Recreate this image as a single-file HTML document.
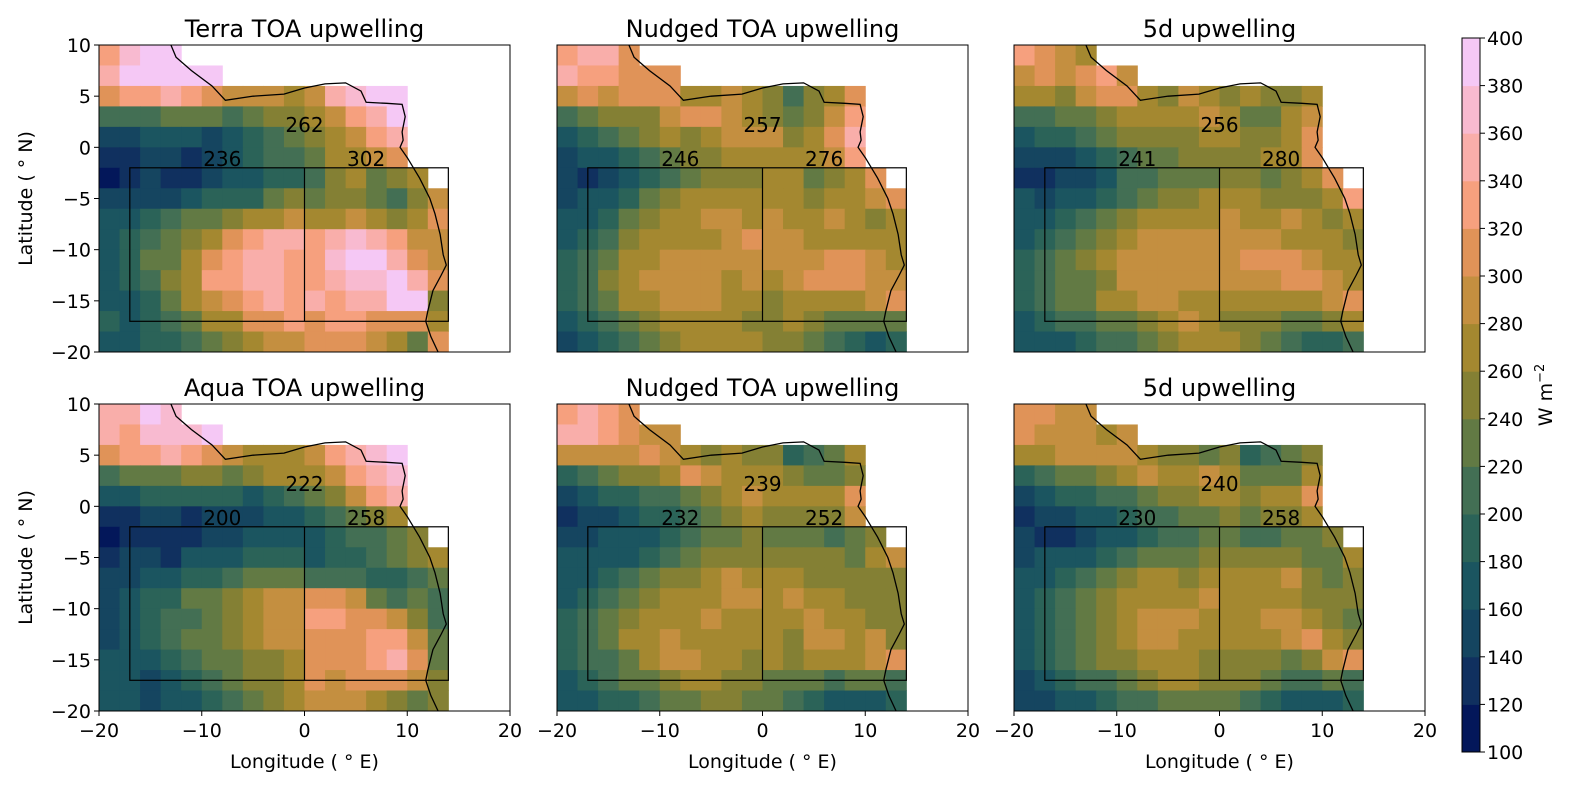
<!DOCTYPE html>
<html><head><meta charset="utf-8">
<style>
body{margin:0;background:#fff;}
svg text{font-family:"DejaVu Sans","Liberation Sans",sans-serif;fill:#000;}
</style></head>
<body>
<svg id="fig" width="1578" height="794" xmlns="http://www.w3.org/2000/svg"></svg>
<script>
// colour levels (100..400 step 20)
const levelTicks=[100,120,140,160,180,200,220,240,260,280,300,320,340,360,380,400];
const levelColors=["#03175a","#10305f","#154560","#1b5560","#2b6358","#436f54","#627a44","#848034","#a48830","#c48f40","#e09358","#f6a07e","#f9aeaa","#f8bad0","#f5c8f5"];
const panelTitles=["Terra TOA upwelling","Nudged TOA upwelling","5d upwelling","Aqua TOA upwelling","Nudged TOA upwelling","5d upwelling"];
const regionMeans=[[262,236,302],[257,246,276],[256,241,280],[222,200,258],[239,232,252],[240,230,258]];
const xTicks=[-20,-10,0,10,20];
const yTicks=[10,5,0,-5,-10,-15,-20];
// 2-degree grids, rows lat 10..-20, cols lon -20..20; char = level index (hex); cells beyond string end = land
const gridTerra=["bdee","ceeeee","abbcba99989cdee","555666567789bce","2233323456789bc","11221234556889a","0121123344578678","22223444676776579","3345667889889878a","345678abccbcdcb99","34668abccbbdeeca9","34578bbccbbcddeca","334689abcbcbccee7","4345688aababbaaa8","3344567899aaa986a"];
const gridNudgedA=["bcca","cbbaaa","9a9aaa88987578a","567779aa987679b","3456787899978ac","23345677888889b","212345677788678a","2334678888887889a","33467889989889878","345788889a9988888","4568899999999aa98","457899998989aaa99","4568899988788889a","34567888877876666","23456788887765434"];
const gridFiveA=["ba98","9a9ab9","8879aa879878778","556678888986689","34456777788778a","22234566777788a","112235566677678a","3233456778887778b","33456788889889878","34567899999998887","45678999999aaa988","4566799999999aa98","4566889988888889a","34556678987776678","33345567888765445"];
const gridAqua=["cced","cbddde","abbcba98889bcde","566677678889bcd","3344444345679bc","112212223345678","0111122333345567","12213334443445678","22334456665554456","2344667899aa96565","2345567899bbaa975","2345667899aaabb96","3334566778aaabca6","3323456778a9aaa97","33233456789998767"];
const gridNudgedB=["bcba","ccba99","9999a9878774568","456778a98887667","23445567898888a","122344567877779","2233345667666567","33334567777777689","33456778988877777","34567888998988777","45678889888898877","45688988888799897","4556899887878889a","34566788776665665","33445667766543334"];
const gridFiveB=["aa99","a99989","889999877674567","456678988986668","23445567788788a","122334556676778","2112334556655667","23334566677777668","33456788788889767","34567888898888777","34567899988899876","34567899888889a87","3456778887777679a","23455678877765565","22334556666543334"];
const grids=[gridTerra,gridNudgedA,gridFiveA,gridAqua,gridNudgedB,gridFiveB];
// coastline (lon, lat)
const coastLon=[-13,-12.5,-11,-9,-7.7,-5,-2,0,2,4,5.5,6,8,9.5,9.8,9.5,9.6,9.3,10,11.2,12.2,12.7,13.2,13.5,13.8,13.3,12.5,12,11.8,12.3,13];
const coastLat=[10,8.8,7.5,6,4.6,5,5.2,5.8,6.2,6.3,5.5,4.4,4.3,4.2,3,1.5,0.7,0,-1,-3,-5,-6.5,-8.5,-10.5,-11.5,-12.5,-14,-16,-17,-18.5,-20];

const NS="http://www.w3.org/2000/svg";
const svg=document.getElementById('fig');
function el(tag,attrs,parent){const e=document.createElementNS(NS,tag);for(const k in attrs)e.setAttribute(k,attrs[k]);(parent||svg).appendChild(e);return e;}
const PX=[99,557,1014],PY=[45,404],PW=411,PH=307;

for(let p=0;p<6;p++){
  const col=p%3,row=Math.floor(p/3);
  const x0=PX[col],y0=PY[row];
  const sx=lon=>x0+(lon+20)/40*PW;
  const sy=lat=>y0+(10-lat)/30*PH;
  const g=el('g',{});
  
  
  const grid=grids[p];
  for(let r=0;r<grid.length;r++){
    const s=grid[r];
    for(let c=0;c<s.length&&c<20;c++){
      const v=parseInt(s[c],16);
      if(isNaN(v))continue;
      const lon=-20+c*2,lat=10-r*2;
      const cell=el('rect',{x:sx(lon),y:sy(lat),width:sx(lon+2)-sx(lon)+0.5,height:sy(lat-2)-sy(lat)+0.5,fill:levelColors[Math.min(v,14)]},g);
      
      
    }
  }
  const pts=coastLon.map((lo,i)=>sx(lo)+','+sy(coastLat[i])).join(' ');
  const coast=el('polyline',{points:pts,fill:'none',stroke:'#000','stroke-width':1.3},g);
  
  
  const box=el('rect',{x:sx(-17),y:sy(-2),width:sx(14)-sx(-17),height:sy(-17)-sy(-2),fill:'none',stroke:'#000','stroke-width':1.2},g);
  
  
  const dv=el('line',{x1:sx(0),x2:sx(0),y1:sy(-2),y2:sy(-17),stroke:'#000','stroke-width':1.2},g);
  
  
  const lp=[[0,1.5],[-8,-1.8],[6,-1.8]];
  for(let i=0;i<3;i++){
    const t=el('text',{x:sx(lp[i][0]),y:sy(lp[i][1]),'font-size':20,'text-anchor':'middle'},g);
    t.textContent=regionMeans[p][i];
    
    
  }
  const fr=el('rect',{x:x0,y:y0,width:PW,height:PH,fill:'none',stroke:'#000','stroke-width':1},g);
  
  
  const tt=el('text',{x:x0+PW/2,y:y0-8,'font-size':24,'text-anchor':'middle'},g);
  tt.textContent=panelTitles[p];
  
  
  if(col===0){
    yTicks.forEach(v=>{
      const y=sy(v);
      const tk=el('line',{x1:x0-5,x2:x0,y1:y,y2:y,stroke:'#000'},g);
      
      
      const tl=el('text',{x:x0-8,y:y+7,'font-size':19,'text-anchor':'end'},g);
      tl.textContent=(v<0?'\u2212':'')+Math.abs(v);
      
      
    });
    const yl=el('text',{x:0,y:0,'font-size':19,'text-anchor':'middle',transform:`translate(32,${y0+PH/2}) rotate(-90)`},g);
    yl.textContent='Latitude ( \u00b0 N)';
    
    
  }
  if(row===1){
    xTicks.forEach(v=>{
      const x=sx(v);
      const tk=el('line',{x1:x,x2:x,y1:y0+PH,y2:y0+PH+5,stroke:'#000'},g);
      
      
      const tl=el('text',{x:x,y:y0+PH+26,'font-size':19,'text-anchor':'middle'},g);
      tl.textContent=(v<0?'\u2212':'')+Math.abs(v);
      
      
    });
    const xl=el('text',{x:x0+PW/2,y:768,'font-size':19,'text-anchor':'middle'},g);
    xl.textContent='Longitude ( \u00b0 E)';
    
    
  }
}
const cb=el('g',{});


const CX=1462,CW=18,CT=38,CB=752;
const cy=v=>CB-(v-100)/300*(CB-CT);
for(let i=0;i<levelColors.length;i++){
  const r=el('rect',{x:CX,y:cy(levelTicks[i+1]),width:CW,height:cy(levelTicks[i])-cy(levelTicks[i+1])+0.5,fill:levelColors[i]},cb);
  
  
}
el('rect',{x:CX,y:CT,width:CW,height:CB-CT,fill:'none',stroke:'#000','stroke-width':1},cb);
levelTicks.forEach(v=>{
  const y=cy(v);
  el('line',{x1:CX+CW,x2:CX+CW+5,y1:y,y2:y,stroke:'#000'},cb);
  const t=el('text',{x:CX+CW+7,y:y+7,'font-size':19},cb);
  t.textContent=v;
  
  
});
const ul=el('text',{x:0,y:0,'font-size':19,'text-anchor':'middle',transform:'translate(1552,395) rotate(-90)'},cb);
ul.innerHTML='W m<tspan dy="-8" font-size="13">\u22122</tspan>';


</script>
</body></html>
